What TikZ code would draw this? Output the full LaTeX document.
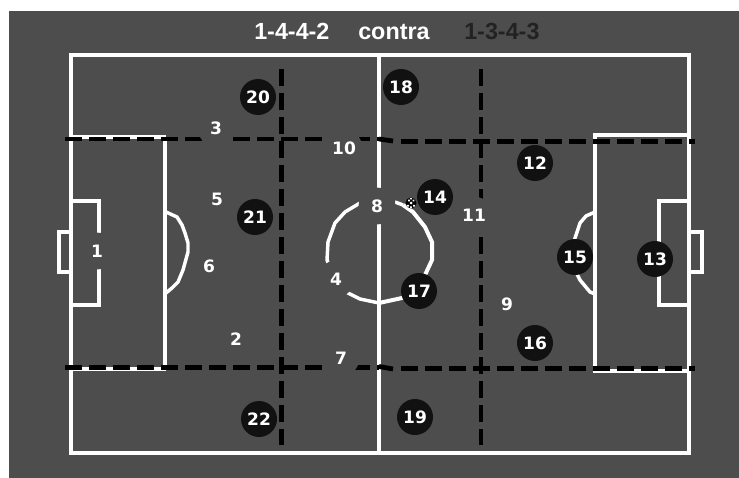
\documentclass[tikz,border=0pt]{standalone}
\usepackage{fontspec}
\setmainfont{Liberation Sans}
\newfontfamily\numfont{DejaVu Sans}
\definecolor{pitch}{HTML}{4D4D4D}
\definecolor{disc}{HTML}{111111}
\definecolor{darktitle}{HTML}{222222}
\tikzset{
  fieldline/.style={draw=white,line width=3pt,line join=miter},
  thinline/.style={draw=white,line width=2.4pt},
  curveline/.style={draw=white,line width=2.6pt,line join=round},
  dashline/.style={draw=black,line width=3.6pt,dash pattern=on 12.75pt off 5.25pt},
  dashtail/.style={draw=black,line width=3.6pt},
  white player/.style={circle,fill=pitch,inner sep=0pt,minimum size=27.6pt,text=white,font=\numfont\bfseries\fontsize{12.8}{14}\selectfont},
  black player/.style={circle,fill=disc,inner sep=0pt,minimum size=27pt,text=white,font=\numfont\bfseries\fontsize{12.8}{14}\selectfont},
  titletext/.style={anchor=base west,inner sep=0pt,font=\bfseries\fontsize{17.5}{20}\selectfont},
}
\begin{document}
\begin{tikzpicture}[x=0.75pt,y=-0.75pt]
\useasboundingbox (0,0) rectangle (739,478);
\fill[white] (0,0) rectangle (739,478);
\fill[pitch] (9,11) rectangle (739,478);
% pitch
\draw[fieldline] (71,55) rectangle (689,452.5);
\draw[fieldline] (379,55) -- (379,452.5);
% left area
\draw[thinline] (166,137) -- (71,137) (165,137) -- (165,369) (166,369) -- (71,369);
\draw[thinline] (71,201) -- (99,201) -- (99,305) -- (71,305);
\draw[thinline] (71,232) -- (59,232) -- (59,272) -- (71,272);
% right area
\draw[thinline] (689,135) -- (595,135) -- (595,371) -- (689,371);
\draw[thinline] (689,201) -- (659,201) -- (659,305) -- (689,305);
\draw[thinline] (689,232) -- (702,232) -- (702,272) -- (689,272);
% penalty arcs
\draw[curveline] (166,212) -- (177,217) -- (182,225) -- (185,233) -- (188,243) -- (188,252) -- (183,270) -- (178,282) -- (172,288) -- (166,293);
\draw[curveline] (595,212) -- (586,216) -- (580,223) -- (575,238) -- (572,258) -- (575,270) -- (580,280) -- (590,292) -- (595,294);
% centre circle
\draw[curveline] (379,303) -- (360,299) -- (346,292) -- (335,280) -- (327,260) -- (328,242) -- (335,223) -- (345,212) -- (360,203);
\draw[curveline] (395,202) -- (403,205);
\draw[draw=white,line width=3pt,line join=round] (403,205) -- (413,212) -- (425,227) -- (432,242) -- (432,260) -- (425,275) -- (419,291) -- (402,298) -- (379,303);
% tactical lines
\draw[dashline] (65,139) -- (379,139);
\draw[dashline] (401,141.5) -- (695,141.5);
\draw[dashtail] (379,139) -- (393,141);
\draw[dashline] (65,367.5) -- (379,367.5);
\draw[dashline] (401,368.5) -- (695,368.5);
\draw[dashtail] (379,366.5) -- (393,369);
\draw[dashline] (281.5,69) -- (281.5,445);
\draw[dashline] (481,69) -- (481,445);
% white side
\node[white player] (p1) at (97,251) {1};
\node[white player] (p2) at (236,339) {2};
\node[white player] (p3) at (216,128) {3};
\node[white player] (p4) at (336,279) {4};
\node[white player] (p5) at (217,199) {5};
\node[white player] (p6) at (209,266) {6};
\node[white player] (p7) at (341,358) {7};
\node[white player] (p8) at (377,206) {8};
\node[white player] (p9) at (507,304) {9};
\node[white player] (p10) at (344,148) {10};
\node[white player] (p11) at (474,215) {11};
% black side
\node[black player] (p12) at (535,163) {12};
\node[black player] (p13) at (655,259) {13};
\node[black player] (p14) at (435,197) {14};
\node[black player] (p15) at (575,257) {15};
\node[black player] (p16) at (535,343) {16};
\node[black player] (p17) at (419,291) {17};
\node[black player] (p18) at (401,87) {18};
\node[black player] (p19) at (415,417) {19};
\node[black player] (p20) at (258,97) {20};
\node[black player] (p21) at (255,217) {21};
\node[black player] (p22) at (259,419) {22};
% ball
\fill[black] (411,203) circle[radius=5.5];
\fill[white] (411,203) circle[radius=1.5]
  (408,199.6) rectangle +(1.8,1.8) (412.6,199.6) rectangle +(1.8,1.8)
  (407.2,204.8) rectangle +(1.8,1.8) (413,204.8) rectangle +(1.8,1.8)
  (410.1,206.4) rectangle +(1.8,1.6) (410.1,198) rectangle +(1.8,1.4);
% title
\node[titletext,text=white] (t1) at (254,40) {1-4-4-2};
\node[titletext,text=white] (t2) at (358,40) {contra};
\node[titletext,text=darktitle] (t3) at (464,40) {1-3-4-3};
\end{tikzpicture}
\end{document}
